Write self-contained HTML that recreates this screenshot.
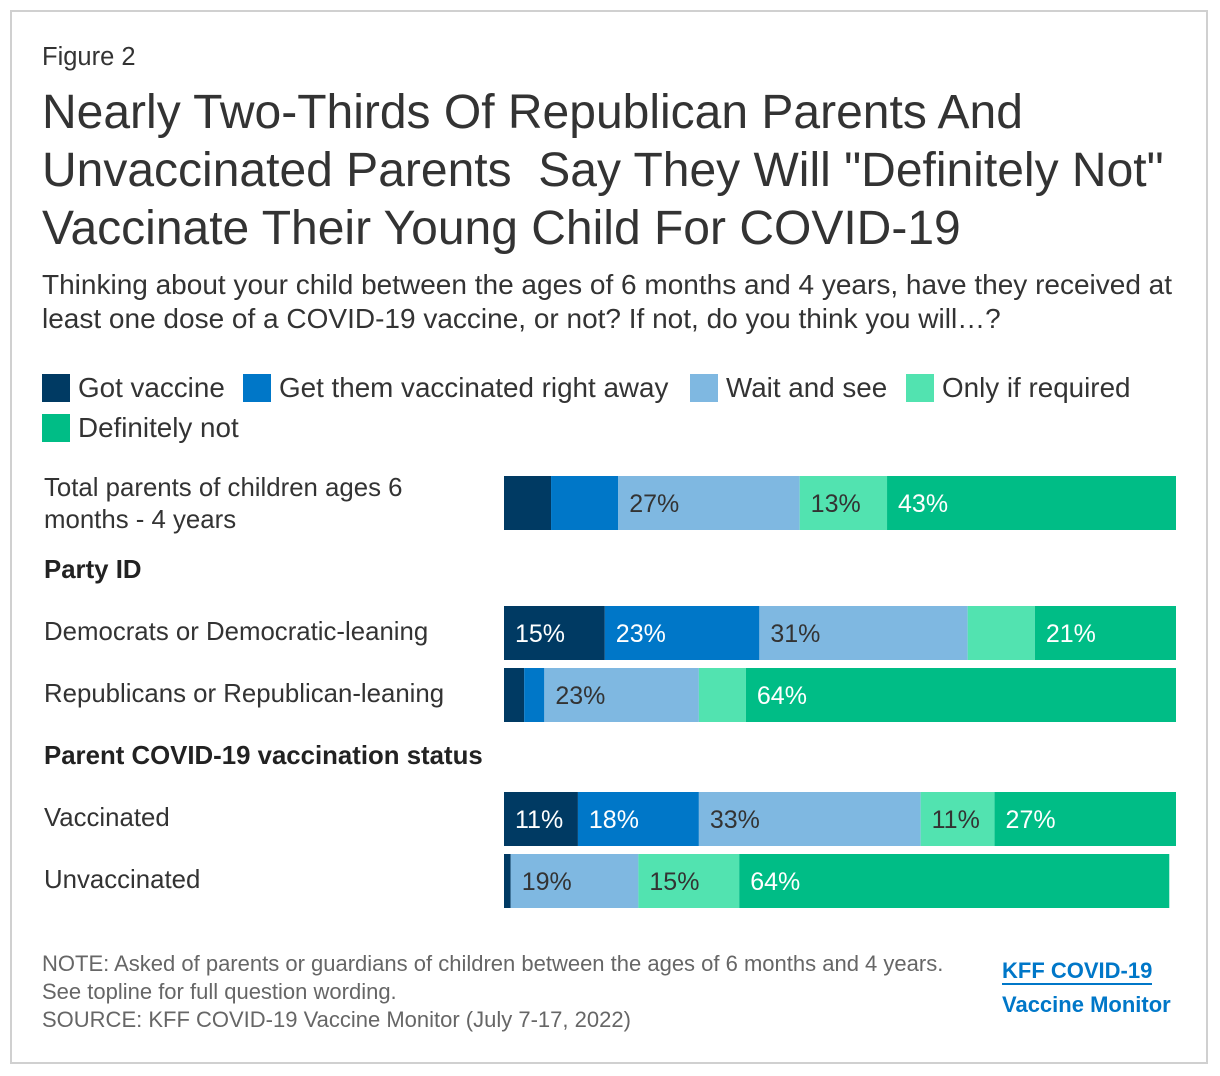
<!DOCTYPE html>
<html><head><meta charset="utf-8"><style>
body{margin:0;width:1220px;height:1076px;background:#fff;font-family:"Liberation Sans",Arial,sans-serif;position:relative;overflow:hidden;color:#222}
.frame{position:absolute;left:10px;top:10px;width:1198px;height:1054px;border:2px solid #d0d0d0;box-sizing:border-box}
.abs{position:absolute;white-space:nowrap}
.lg{position:absolute;font-size:27.8px;color:#333;display:flex;align-items:center}
.lg span{display:inline-block;width:28px;height:28px;margin-right:8px}
.row{position:absolute;left:44px;font-size:25.8px;color:#333;line-height:32px}
.grp{position:absolute;left:44px;font-size:25.8px;font-weight:bold;color:#222}
</style></head><body>
<div class="frame"></div>
<div class="abs" style="left:42px;top:43px;font-size:25.5px;color:#333">Figure 2</div>
<div class="abs" style="left:42px;top:84px;font-size:48px;line-height:58px;color:#333">Nearly Two-Thirds Of Republican Parents And<br>Unvaccinated Parents&nbsp; Say They Will "Definitely Not"<br>Vaccinate Their Young Child For COVID-19</div>
<div class="abs" style="left:42px;top:268px;font-size:28px;line-height:34px;color:#333">Thinking about your child between the ages of 6 months and 4 years, have they received at<br>least one dose of a COVID-19 vaccine, or not? If not, do you think you will…?</div>
<div class="lg" style="left:42px;top:372px"><span style="background:#003A63"></span>Got vaccine</div>
<div class="lg" style="left:243px;top:372px"><span style="background:#0077C8"></span>Get them vaccinated right away</div>
<div class="lg" style="left:690px;top:372px"><span style="background:#7FB8E1"></span>Wait and see</div>
<div class="lg" style="left:906px;top:372px"><span style="background:#52E3B0"></span>Only if required</div>
<div class="lg" style="left:42px;top:412px"><span style="background:#00BD86"></span>Definitely not</div>
<div class="row" style="top:472px">Total parents of children ages 6<br>months - 4 years</div>
<div class="grp" style="top:556px">Party ID</div>
<div class="row" style="top:616px">Democrats or Democratic-leaning</div>
<div class="row" style="top:678px">Republicans or Republican-leaning</div>
<div class="grp" style="top:742px">Parent COVID-19 vaccination status</div>
<div class="row" style="top:802px">Vaccinated</div>
<div class="row" style="top:864px">Unvaccinated</div>
<svg id="bars" width="1220" height="1076" style="position:absolute;left:0;top:0"></svg>
<div class="abs" style="left:42px;top:950px;font-size:22px;line-height:28px;color:#666">NOTE: Asked of parents or guardians of children between the ages of 6 months and 4 years.<br>See topline for full question wording.<br>SOURCE: KFF COVID-19 Vaccine Monitor (July 7-17, 2022)</div>
<div class="abs" style="left:1002px;top:954px;font-size:22px;font-weight:bold;color:#0077C8;line-height:34px"><span style="border-bottom:2px solid #0077C8">KFF COVID-19</span><br>Vaccine Monitor</div>
<script>
const categories=["Total","Democrats","Republicans","Vaccinated","Unvaccinated"];
const gotVaccine=[7,15,3,11,1];
const rightAway=[10,23,3,18,0];
const waitSee=[27,31,23,33,19];
const onlyRequired=[13,10,7,11,15];
const definitelyNot=[43,21,64,27,64];
const seriesNames=["got-vaccine","right-away","wait-and-see","only-if-required","definitely-not"];
const colors=["#003A63","#0077C8","#7FB8E1","#52E3B0","#00BD86"];
const textColors=["#fff","#fff","#333","#333","#fff"];
const rowTops=[476,606,668,792,854];
const x0=504,pxPer=6.72,barH=54;
const svg=document.getElementById('bars');
const NS="http://www.w3.org/2000/svg";
const series=[gotVaccine,rightAway,waitSee,onlyRequired,definitelyNot];
categories.forEach((c,i)=>{
  let acc=0;
  series.forEach((s,j)=>{
    const v=s[i];
    if(v<=0)return;
    const x=x0+acc*pxPer,w=v*pxPer;
    const r=document.createElementNS(NS,'rect');
    r.setAttribute('x',x);r.setAttribute('y',rowTops[i]);r.setAttribute('width',w);r.setAttribute('height',barH);r.setAttribute('fill',colors[j]);
    
    
    svg.appendChild(r);
    if(v>=11){
      const t=document.createElementNS(NS,'text');
      t.setAttribute('x',x+11);t.setAttribute('y',rowTops[i]+36);t.setAttribute('font-size','25');t.setAttribute('fill',textColors[j]);
      t.setAttribute('font-family','Liberation Sans, Arial, sans-serif');
      t.textContent=v+'%';
      
      
      svg.appendChild(t);
    }
    acc+=v;
  });
});
</script>
</body></html>
